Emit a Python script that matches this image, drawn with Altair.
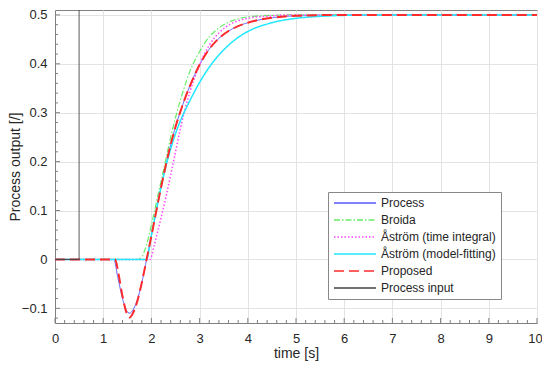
import altair as alt
import pandas as pd

# ---- data ----
t_process = [0, 1.22, 1.3, 1.4, 1.5, 1.55, 1.6, 1.7, 1.8, 1.9, 2.0, 2.1, 2.2, 2.3, 2.4, 2.5, 2.6, 2.7, 2.8, 3.0, 3.2, 3.4, 3.6, 3.8, 4.0, 4.5, 5.0, 6.0, 8.0, 10.0]
y_process = [0, 0, -0.035, -0.08, -0.107, -0.11, -0.106, -0.085, -0.048, 0.0, 0.048, 0.098, 0.147, 0.193, 0.235, 0.271, 0.302, 0.33, 0.355, 0.398, 0.43, 0.452, 0.467, 0.477, 0.484, 0.494, 0.498, 0.5, 0.5, 0.5]

t_broida = [0, 1.72, 1.8, 1.9, 2.0, 2.1, 2.2, 2.3, 2.4, 2.5, 2.6, 2.8, 3.0, 3.2, 3.4, 3.6, 3.8, 4.0, 4.5, 5.0, 6.0, 10.0]
y_broida = [0, 0, 0.005, 0.03, 0.07, 0.115, 0.16, 0.205, 0.25, 0.29, 0.325, 0.385, 0.425, 0.455, 0.473, 0.485, 0.492, 0.496, 0.499, 0.5, 0.5, 0.5]

t_ati = [0, 1.97, 2.05, 2.1, 2.2, 2.3, 2.4, 2.5, 2.6, 2.7, 2.8, 3.0, 3.2, 3.4, 3.6, 3.8, 4.0, 4.5, 5.0, 6.0, 10.0]
y_ati = [0, 0, 0.025, 0.045, 0.085, 0.127, 0.173, 0.22, 0.267, 0.308, 0.343, 0.398, 0.438, 0.463, 0.479, 0.488, 0.493, 0.498, 0.5, 0.5, 0.5]

t_amf = [0, 1.9, 2.0, 2.1, 2.2, 2.3, 2.4, 2.5, 2.6, 2.7, 2.8, 3.0, 3.2, 3.4, 3.6, 3.8, 4.0, 4.5, 5.0, 5.5, 6.0, 7.0, 10.0]
y_amf = [0, 0, 0.05, 0.10, 0.148, 0.19, 0.226, 0.257, 0.283, 0.305, 0.325, 0.362, 0.393, 0.418, 0.438, 0.454, 0.466, 0.484, 0.493, 0.497, 0.499, 0.5, 0.5]

t_proposed = [0, 1.25, 1.3, 1.4, 1.5, 1.55, 1.6, 1.7, 1.8, 1.9, 2.0, 2.1, 2.2, 2.3, 2.4, 2.5, 2.6, 2.7, 2.8, 3.0, 3.2, 3.4, 3.6, 3.8, 4.0, 4.5, 5.0, 6.0, 8.0, 10.0]
y_proposed = [0, 0, -0.02, -0.075, -0.113, -0.119, -0.113, -0.088, -0.048, 0.0, 0.048, 0.098, 0.147, 0.193, 0.235, 0.271, 0.302, 0.33, 0.355, 0.398, 0.43, 0.452, 0.467, 0.477, 0.484, 0.494, 0.498, 0.5, 0.5, 0.5]

t_input = [0, 0.5, 0.5, 10]
y_input = [0, 0, 1, 1]

series_names = ["Process", "Broida", "Åström (time integral)", "Åström (model-fitting)", "Proposed", "Process input"]
colors = ["#5a5aff", "#66ee66", "#ff44ff", "#22e8ff", "#ff2a2a", "#444444"]
dashes = [[1, 0], [6, 2, 1.5, 2], [1.5, 2], [1, 0], [10, 5], [1, 0]]
widths = [1, 1.2, 1.5, 1.5, 2, 1]
interps = ["monotone", "monotone", "monotone", "monotone", "monotone", "linear"]

x_major = list(range(0, 11))
x_minor = [round(i * 0.2, 2) for i in range(0, 51) if i % 5 != 0]
y_major = [-0.1, 0.0, 0.1, 0.2, 0.3, 0.4, 0.5]
y_minor = [round(-0.12 + i * 0.02, 2) for i in range(0, 32)
           if round(-0.12 + i * 0.02, 2) not in (-0.1, 0.0, 0.1, 0.2, 0.3, 0.4, 0.5)]

series_data = [
    (t_process, y_process),
    (t_broida, y_broida),
    (t_ati, y_ati),
    (t_amf, y_amf),
    (t_proposed, y_proposed),
    (t_input, y_input),
]

FONT = "Liberation Sans"
XDOM = [0, 10]
YDOM = [-0.13, 0.51]
AXC = "#808080"
W, H = 482, 313

x_axis = alt.Axis(values=x_major, grid=True, ticks=False, labelPadding=9, labelFlush=False,
                  labelOffset={"condition": {"test": "datum.value == 10", "value": -2}, "value": 0},
                  title="time [s]", titleX=W / 2, titleY=30, titleBaseline="middle",
                  titleAlign="center", format="d")
y_axis = alt.Axis(values=y_major, grid=True, ticks=False, labelPadding=8, labelFlush=False,
                  title="Process output [/]", titleX=-40, titleY=H / 2, titleAngle=-90,
                  titleBaseline="middle", titleAlign="center",
                  labelExpr="datum.value == 0 ? '0' : format(datum.value, '.1f')")

color_scale = alt.Scale(domain=series_names, range=colors)
dash_scale = alt.Scale(domain=series_names, range=dashes)

LEG = alt.Legend(orient="none", legendX=273, legendY=182)

layers = []
for i, (name, (tt, yy)) in enumerate(zip(series_names, series_data)):
    df = pd.DataFrame({"t": tt, "y": yy, "series": name, "order": list(range(len(tt)))})
    lyr = alt.Chart(df).mark_line(strokeWidth=widths[i], clip=True, interpolate=interps[i]).encode(
        x=alt.X("t:Q", scale=alt.Scale(domain=XDOM, nice=False, zero=False), axis=x_axis),
        y=alt.Y("y:Q", scale=alt.Scale(domain=YDOM, nice=False, zero=False), axis=y_axis),
        order="order:Q",
        color=alt.Color("series:N", scale=color_scale, title=None, legend=LEG),
        strokeDash=alt.StrokeDash("series:N", scale=dash_scale, title=None, legend=LEG),
    )
    layers.append(lyr)


def xticks(vals, length):
    df = pd.DataFrame({"t": vals})
    return alt.Chart(df).mark_rule(color=AXC, strokeWidth=1).encode(
        x=alt.X("t:Q", scale=alt.Scale(domain=XDOM, nice=False, zero=False), axis=x_axis),
        y=alt.value(H), y2=alt.value(H - length))


def yticks(vals, length):
    df = pd.DataFrame({"y": vals})
    return alt.Chart(df).mark_rule(color=AXC, strokeWidth=1).encode(
        y=alt.Y("y:Q", scale=alt.Scale(domain=YDOM, nice=False, zero=False), axis=y_axis),
        x=alt.value(0), x2=alt.value(length))


tick_layers = [xticks(x_major, 5), xticks(x_minor, 3), yticks(y_major, 5), yticks(y_minor, 3)]

chart = alt.layer(*tick_layers, *layers).properties(
    width=W, height=H,
    autosize=alt.AutoSizeParams(type="none"),
    padding={"left": 47, "top": 2, "right": 5, "bottom": 42},
    background="white",
).configure_view(
    stroke=AXC, strokeWidth=1
).configure_axis(
    labelFont=FONT, titleFont=FONT, labelFontSize=13, titleFontSize=14,
    titleFontWeight="normal", labelColor="#262626", titleColor="#262626",
    domainColor=AXC, gridColor="#e3e3e3", gridWidth=1,
).configure_legend(
    labelFont=FONT, labelFontSize=12, labelColor="#262626",
    symbolType="M-4.2,0H4.2", symbolSize=100, symbolStrokeWidth=1.5, symbolOffset=16,
    strokeColor="#888888", fillColor="white", padding=5, rowPadding=5,
    labelOffset=20, labelLimit=300, cornerRadius=0,
)

chart.save("out.html", embed_options={"renderer": "svg", "actions": False})
